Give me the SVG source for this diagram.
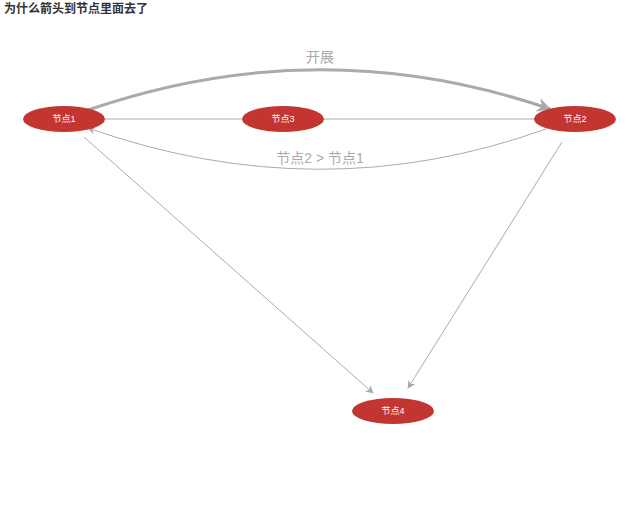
<svg xmlns="http://www.w3.org/2000/svg" width="640" height="531" viewBox="0 0 640 531">
<defs>
<style>
.title{font-family:"Liberation Sans","Noto Sans CJK SC",sans-serif;font-size:12px;font-weight:bold;fill:#333}
.node ellipse{fill:#c23531}
.node text{font-family:"Liberation Sans","Noto Sans CJK SC",sans-serif;font-size:9px;fill:#fff;text-anchor:middle}
.edge{fill:none;stroke:#aaa;stroke-width:1}
.lbl{font-family:"Liberation Sans","Noto Sans CJK SC",sans-serif;font-size:14px;fill:#aaa;text-anchor:middle}
</style>
<marker id="arr" viewBox="0 0 10 10" refX="9" refY="5" markerWidth="8" markerHeight="8" markerUnits="userSpaceOnUse" orient="auto">
<path d="M0,0 L10,5 L0,10 L3,5 z" fill="#aaa"/>
</marker>
<marker id="arrBig" viewBox="0 0 10 10" refX="9" refY="5" markerWidth="14" markerHeight="14" markerUnits="userSpaceOnUse" orient="auto">
<path d="M0,0 L10,5 L0,10 L3,5 z" fill="#aaa"/>
</marker>
</defs>
<rect width="640" height="531" fill="#fff"/>
<text class="title" x="4" y="13">为什么箭头到节点里面去了</text>
<g id="edges">
<path class="edge" d="M105,119 L242,119"/>
<path class="edge" d="M324,119 L535,119"/>
<path class="edge" d="M88,110 Q320,30 550,109" style="stroke-width:3" marker-end="url(#arrBig)"/>
<path class="edge" d="M546,129 Q320,210 88,128" marker-end="url(#arr)"/>
<path class="edge" d="M84,137 L373,393" marker-end="url(#arr)"/>
<path class="edge" d="M562,142 L408,388" marker-end="url(#arr)"/>
<text class="lbl" x="320" y="62">开展</text>
<text class="lbl" x="320" y="163">节点2 &gt; 节点1</text>
</g>
<g id="node1" class="node"><ellipse cx="64" cy="119" rx="41" ry="13"/><text x="64" y="122">节点1</text></g>
<g id="node3" class="node"><ellipse cx="283" cy="119" rx="41" ry="13"/><text x="283" y="122">节点3</text></g>
<g id="node2" class="node"><ellipse cx="575" cy="119" rx="41" ry="13"/><text x="575" y="122">节点2</text></g>
<g id="node4" class="node"><ellipse cx="393" cy="411" rx="41" ry="13"/><text x="393" y="414">节点4</text></g>
</svg>
